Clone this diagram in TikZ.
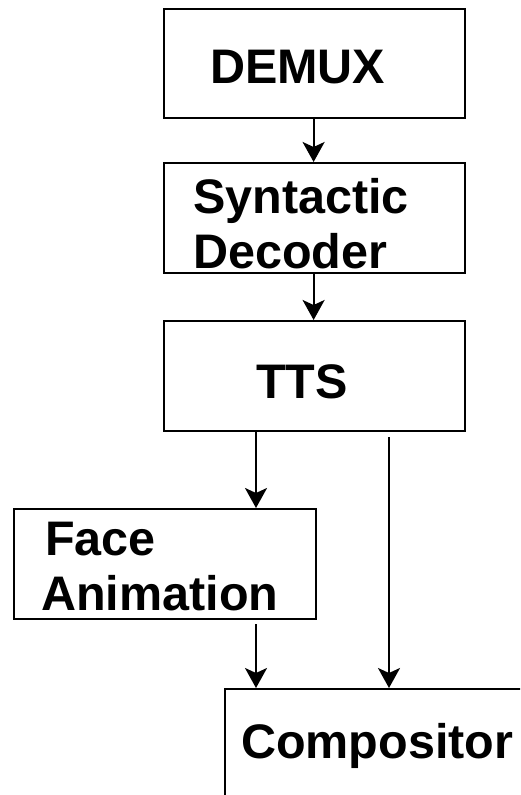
\documentclass[tikz,border=0pt]{standalone}
\usepackage{fontspec}
\setmainfont{Liberation Sans}
\usetikzlibrary{arrows.meta}
\tikzset{
  block/.style={draw, line width=2.2pt, rectangle, anchor=north west, inner sep=0pt},
  lbl/.style={anchor=base west, inner sep=0pt, font=\fontsize{48.5}{55}\selectfont\bfseries},
  flow/.style={line width=2.2pt, -{Stealth[length=20pt, width=22pt, inset=5pt]}},
}
\begin{document}
\begin{tikzpicture}[x=1pt, y=1pt]
  \useasboundingbox (0,0) rectangle (520,-795);
  \clip (0,0) rectangle (520,-795);

  % blocks
  \node[block, minimum width=301pt, minimum height=109pt] (demux) at (163,-8) {};
  \node[block, minimum width=301pt, minimum height=110pt] (syn) at (163,-162) {};
  \node[block, minimum width=301pt, minimum height=110pt] (tts) at (163,-320) {};
  \node[block, minimum width=302pt, minimum height=110pt] (face) at (13,-508) {};
  \node[block, minimum width=320pt, minimum height=130pt] (comp) at (224,-688) {};

  % labels
  \node[lbl] (tdemux) at (210,-83) {DEMUX};
  \node[lbl] (tsyn1) at (193,-213) {Syntactic};
  \node[lbl] (tsyn2) at (193,-268) {Decoder};
  \node[lbl] (ttts) at (256,-398) {TTS};
  \node[lbl] (tface1) at (45,-555) {Face};
  \node[lbl] (tface2) at (41,-610) {Animation};
  \node[lbl] (tcomp) at (241,-758) {Compositor};

  % connectors
  \draw[flow] ([xshift=-1pt]demux.south) -- ([xshift=-1pt]syn.north);
  \draw[flow] ([xshift=-1pt]syn.south) -- ([xshift=-1pt]tts.north);
  \draw[flow] ([xshift=93pt]tts.south west) coordinate (ta) -- (ta |- face.north);
  \draw[flow] ([xshift=32pt,yshift=-4pt]comp.north west |- face.south) coordinate (fa) -- (fa |- comp.north);
  \draw[flow] ([xshift=226pt,yshift=-5pt]tts.south west) coordinate (tb) -- (tb |- comp.north);
\end{tikzpicture}
\end{document}
